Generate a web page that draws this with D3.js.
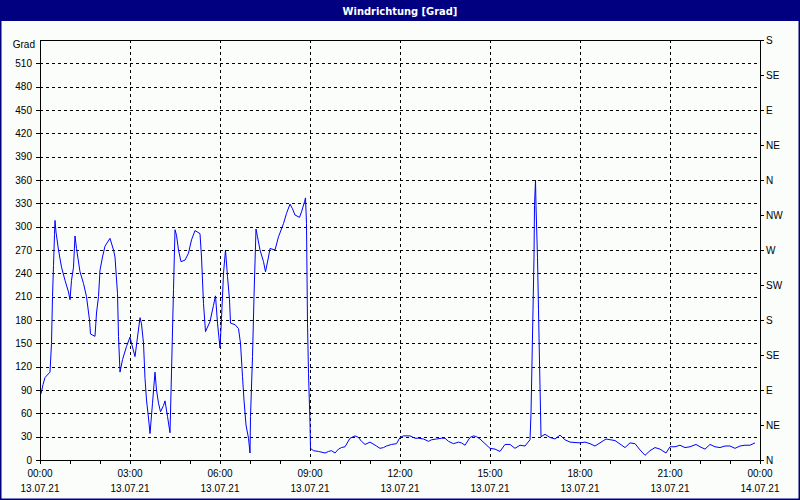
<!DOCTYPE html>
<html lang="de">
<head>
<meta charset="utf-8">
<title>Windrichtung</title>
<script src="https://cdn.jsdelivr.net/npm/d3@7"></script>
<style>
  body { margin: 0; background: #fafdfa; }
  svg { display: block; }
  .axis text { font-family: "Liberation Sans", Arial, sans-serif; font-size: 10px; fill: #000; }
  .axis path, .axis line { stroke: #000; shape-rendering: crispEdges; }
  .grid line { stroke: #000; stroke-dasharray: 3,3; shape-rendering: crispEdges; }
</style>
</head>
<body>
<script>
var w = 800, h = 500;
var margin = {top: 40, right: 40, bottom: 40, left: 40};

// time of each reading in minutes after 13.07.21 00:00
var minutes = [2, 6, 10, 20, 23, 25, 27, 29, 30, 32, 37, 43, 50, 57, 60, 63, 67, 70, 73, 80,
  87, 93, 99, 101, 110, 113, 117, 120, 125, 130, 140, 147, 150, 155, 157, 160, 165, 173, 180, 183,
  190, 195, 200, 203, 207, 210, 213, 217, 220, 225, 230, 233, 237, 241, 247, 250, 255, 260, 263, 267,
  270, 273, 277, 282, 290, 297, 303, 310, 320, 323, 327, 331, 340, 347, 351, 355, 360, 363, 367, 371,
  375, 379, 381, 390, 397, 401, 405, 408, 412, 417, 420, 421, 425, 428, 432, 435, 440, 447, 451, 457,
  460, 470, 477, 487, 493, 500, 505, 510, 519, 523, 529, 531, 533, 535, 537, 540, 541, 547, 557, 570,
  577, 583, 590, 597, 603, 610, 620, 630, 637, 643, 650, 660, 673, 680, 687, 693, 703, 713, 720, 727,
  740, 750, 757, 767, 777, 783, 793, 803, 810, 817, 827, 837, 843, 850, 860, 867, 873, 880, 890, 900,
  910, 920, 930, 940, 950, 960, 970, 980, 982, 984, 986, 988, 989, 991, 992, 995, 997, 999, 1001, 1002,
  1010, 1020, 1030, 1040, 1050, 1060, 1080, 1090, 1100, 1110, 1120, 1132, 1150, 1170, 1180, 1190, 1200, 1210, 1220, 1230,
  1240, 1252, 1260, 1270, 1280, 1290, 1300, 1312, 1320, 1330, 1340, 1350, 1360, 1370, 1380, 1390, 1400, 1410, 1420, 1430];

// wind direction in degrees
var direction = [85, 97, 106, 113, 150, 210, 250, 290, 308, 293, 270, 248, 231, 216, 206, 231, 248, 288, 272, 242,
  227, 210, 180, 162, 159, 189, 210, 244, 261, 275, 285, 270, 261, 214, 159, 113, 129, 146, 158, 150,
  133, 158, 183, 175, 150, 105, 77, 54, 34, 73, 113, 90, 73, 62, 70, 76, 56, 35, 113, 219,
  296, 289, 270, 255, 257, 266, 283, 295, 291, 261, 201, 165, 178, 199, 211, 176, 144, 182, 240, 270,
  236, 206, 176, 174, 169, 150, 107, 77, 45, 28, 9, 56, 133, 210, 297, 287, 270, 255, 242, 261,
  272, 270, 287, 304, 317, 329, 323, 315, 312, 319, 332, 337, 304, 176, 111, 48, 15, 12, 11, 9,
  11, 12, 9, 14, 16, 17, 28, 31, 29, 24, 20, 23, 18, 15, 16, 18, 20, 21, 29, 31,
  31, 28, 28, 27, 24, 26, 27, 28, 28, 24, 21, 23, 22, 19, 29, 31, 30, 27, 21, 15,
  14, 11, 20, 20, 15, 19, 18, 26, 60, 126, 193, 261, 327, 360, 327, 260, 193, 126, 64, 30,
  33, 29, 27, 32, 26, 23, 22, 23, 21, 18, 22, 27, 25, 16, 22, 21, 13, 6, 12, 16,
  14, 9, 17, 17, 19, 16, 17, 20, 17, 14, 20, 17, 16, 18, 18, 15, 18, 19, 19, 22];

var gradTicks = [0, 30, 60, 90, 120, 150, 180, 210, 240, 270, 300, 330, 360, 390, 420, 450, 480, 510];
var compassTicks = [0, 45, 90, 135, 180, 225, 270, 315, 360, 405, 450, 495, 540];
var compassLabels = ["N", "NE", "E", "SE", "S", "SW", "W", "NW", "N", "NE", "E", "SE", "S"];
var dayLabel = ["13.07.21", "13.07.21", "13.07.21", "13.07.21", "13.07.21", "13.07.21", "13.07.21", "13.07.21", "14.07.21"];

var start = new Date(2021, 6, 13, 0, 0);
var end = new Date(2021, 6, 14, 0, 0);
var data = minutes.map(function(m, i) {
  return {t: new Date(start.getTime() + m * 60000), v: direction[i]};
});

var svg = d3.select("body").append("svg")
  .attr("width", w)
  .attr("height", h);

// window frame + title bar
svg.append("rect")
  .attr("x", 0.5).attr("y", 0.5)
  .attr("width", w - 1).attr("height", h - 1)
  .attr("fill", "#fafdfa")
  .attr("stroke", "#000080")
  .attr("stroke-width", 2);
svg.append("rect")
  .attr("x", 0).attr("y", 0)
  .attr("width", w).attr("height", 21)
  .attr("fill", "#000080");
svg.append("text")
  .attr("x", w / 2).attr("y", 14.5)
  .attr("text-anchor", "middle")
  .attr("font-family", "'DejaVu Sans Condensed', 'Liberation Sans Narrow', sans-serif")
  .attr("font-weight", "bold")
  .attr("font-size", "11px")
  .attr("fill", "#fff")
  .text("Windrichtung [Grad]");

var xScale = d3.scaleTime()
  .domain([start, end])
  .range([margin.left, w - margin.right]);

var yScale = d3.scaleLinear()
  .domain([0, 540])
  .range([h - margin.bottom, margin.top]);

// grid
var gridY = gradTicks.filter(function(d) { return d > 0; });
svg.append("g").attr("class", "grid")
  .selectAll("line")
  .data(gridY)
  .enter().append("line")
  .attr("x1", margin.left)
  .attr("x2", w - margin.right)
  .attr("y1", function(d) { return Math.round(yScale(d)) + 0.5; })
  .attr("y2", function(d) { return Math.round(yScale(d)) + 0.5; });

var gridX = d3.timeHour.every(3).range(new Date(2021, 6, 13, 3), end);
svg.append("g").attr("class", "grid")
  .selectAll("line")
  .data(gridX)
  .enter().append("line")
  .attr("x1", function(d) { return Math.round(xScale(d)) + 0.5; })
  .attr("x2", function(d) { return Math.round(xScale(d)) + 0.5; })
  .attr("y1", margin.top)
  .attr("y2", h - margin.bottom);

// top frame
svg.append("line")
  .attr("x1", margin.left).attr("x2", w - margin.right)
  .attr("y1", margin.top + 0.5).attr("y2", margin.top + 0.5)
  .attr("stroke", "#000")
  .attr("shape-rendering", "crispEdges");

// axes
var yAxis = d3.axisLeft(yScale)
  .tickValues(gradTicks)
  .tickSize(4)
  .tickPadding(4)
  .tickSizeOuter(0);
var gy = svg.append("g")
  .attr("class", "axis")
  .attr("transform", "translate(" + margin.left + ",0)")
  .call(yAxis);
gy.append("text")
  .attr("x", -5)
  .attr("y", margin.top + 8)
  .attr("text-anchor", "end")
  .text("Grad");

var rAxis = d3.axisRight(yScale)
  .tickValues(compassTicks)
  .tickFormat(function(d, i) { return compassLabels[i]; })
  .tickSize(4)
  .tickPadding(2)
  .tickSizeOuter(0);
svg.append("g")
  .attr("class", "axis")
  .attr("transform", "translate(" + (w - margin.right) + ",0)")
  .call(rAxis);

var hourTicks = d3.timeHour.every(1).range(start, d3.timeHour.offset(end, 1));
var xAxis = d3.axisBottom(xScale)
  .tickValues(hourTicks)
  .tickSize(4)
  .tickSizeOuter(0)
  .tickFormat("");
svg.append("g")
  .attr("class", "axis")
  .attr("transform", "translate(0," + (h - margin.bottom) + ")")
  .call(xAxis);

var labelTimes = d3.timeHour.every(3).range(start, d3.timeHour.offset(end, 1));
var fmt = d3.timeFormat("%H:%M");
var xl = svg.append("g").attr("class", "axis");
xl.selectAll("text.time")
  .data(labelTimes)
  .enter().append("text")
  .attr("class", "time")
  .attr("x", function(d) { return xScale(d); })
  .attr("y", 477)
  .attr("text-anchor", "middle")
  .text(function(d) { return fmt(d); });
xl.selectAll("text.day")
  .data(labelTimes)
  .enter().append("text")
  .attr("class", "day")
  .attr("x", function(d) { return xScale(d); })
  .attr("y", 492)
  .attr("text-anchor", "middle")
  .text(function(d, i) { return dayLabel[i]; });

// line
var line = d3.line()
  .x(function(d) { return xScale(d.t); })
  .y(function(d) { return yScale(d.v); });

svg.append("path")
  .datum(data)
  .attr("fill", "none")
  .attr("stroke", "#0000ff")
  .attr("stroke-width", 1)
  .attr("d", line);
</script>
</body>
</html>
